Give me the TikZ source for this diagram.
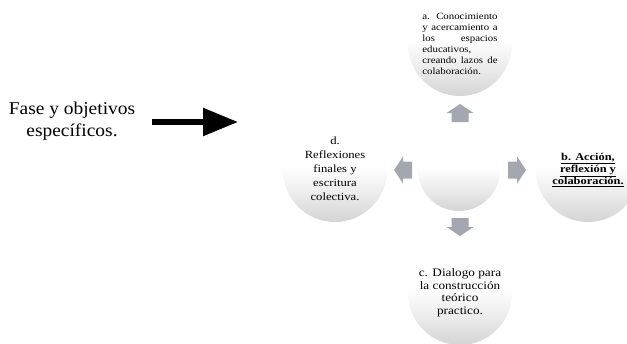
\documentclass[tikz,border=0pt]{standalone}
\usepackage{fontspec}
\setmainfont{Liberation Serif}
\usetikzlibrary{arrows.meta}

\definecolor{arrowgray}{RGB}{163,167,175}
% soft disc: white top fading to light grey at the bottom
\pgfdeclareverticalshading{discfade}{100bp}{%
  color(0bp)=(black!17); color(25bp)=(black!17); color(38bp)=(black!8);
  color(52bp)=(white); color(100bp)=(white)}

\newcommand{\widen}[2][1.15]{\scalebox{#1}[1]{#2}}

\tikzset{
  disc/.style={circle, inner sep=0pt, minimum size=104pt, shading=discfade},
  hubdisc/.style={disc, minimum size=82pt},
  blockarrow/.pic={
    \fill[arrowgray] (-9,-8.5) -- (0,-8.5) -- (0,-13.5) -- (9,0)
      -- (0,13.5) -- (0,8.5) -- (-9,8.5) -- cycle;
  }
}

\begin{document}
\begin{tikzpicture}[x=1pt, y=-1pt]
  \useasboundingbox (0,0) rectangle (627,343);

  % heading and pointer
  \node[align=center] (fase) at (72,121)
    {\widen[1.08]{\fontsize{18}{22}\selectfont
     \begin{tabular}{@{}c@{}}Fase y objetivos\\específicos.\end{tabular}}};
  \coordinate (tail) at (152,122);
  \coordinate (tip) at (238,122);
  \draw[line width=5.5pt, -{Triangle[length=35pt,width=27pt]}] (tail) -- (tip);

  % hub and the four phases
  \node[hubdisc] (hub) at (459,170) {};

  \node[disc] (a) at (460,44)
    {\widen[1.14]{\parbox{66pt}{\fontsize{9.5}{11}\selectfont
      a.~Conocimiento\linebreak y acercamiento a\linebreak
      los espacios\linebreak educativos,\linebreak
      creando lazos de\linebreak colaboración.}}};

  \node[disc] (b) at (588,170)
    {\widen[1.18]{\fontsize{10.5}{12}\selectfont\bfseries
     \begin{tabular}{@{}c@{}}\underline{b. Acción,}\\\underline{reflexión y}\\
     \underline{colaboración.}\end{tabular}}};

  \node[disc] (c) at (460,293)
    {\widen{\fontsize{11.5}{12.5}\selectfont
     \begin{tabular}{@{}c@{}}c. Dialogo para\\la construcción\\teórico\\
     practico.\end{tabular}}};

  \node[disc] (d) at (335,170)
    {\widen{\fontsize{11}{14}\selectfont
     \begin{tabular}{@{}c@{}}d.\\Reflexiones\\finales y\\escritura\\
     colectiva.\end{tabular}}};

  % block arrows from the hub towards each phase
  \pic[rotate=90]  (toA) at (460,113) {blockarrow};
  \pic[rotate=0]   (toB) at (517,170) {blockarrow};
  \pic[rotate=-90] (toC) at (460,227) {blockarrow};
  \pic[rotate=180] (toD) at (403,170) {blockarrow};
\end{tikzpicture}
\end{document}
